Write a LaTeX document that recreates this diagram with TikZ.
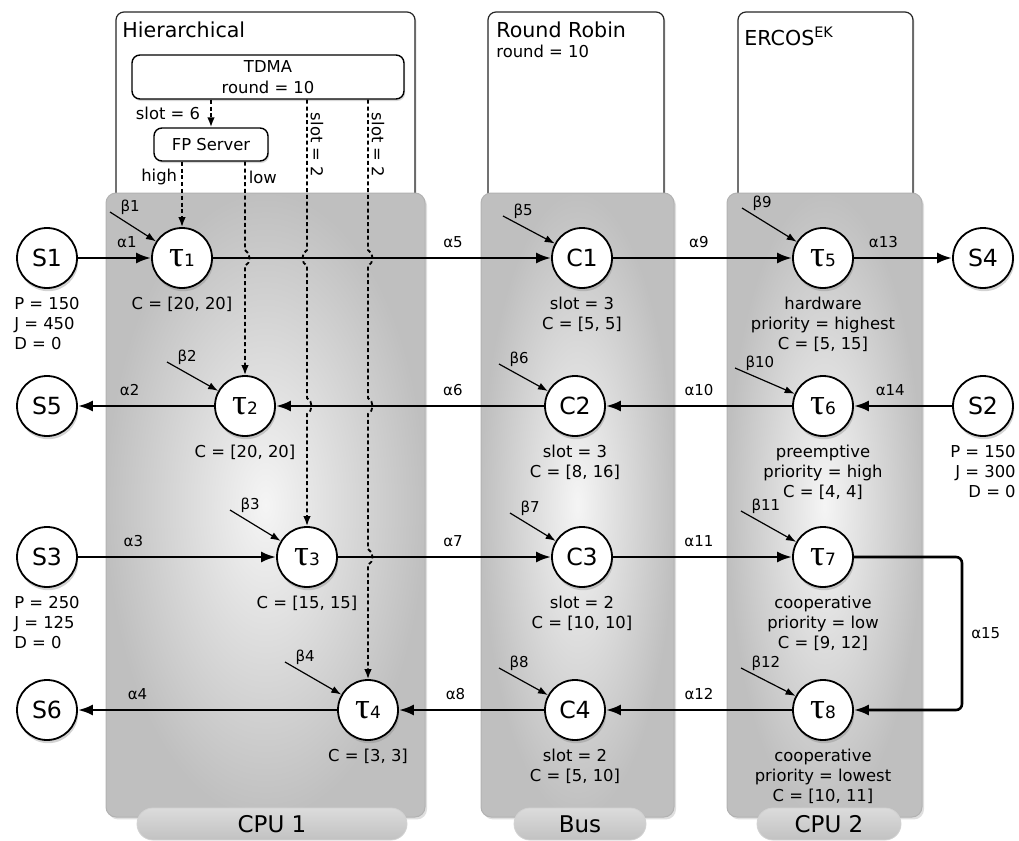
\documentclass[tikz,border=0pt]{standalone}
\usepackage{fontspec}
\setmainfont{DejaVu Sans}
\newfontfamily\taufont{Liberation Serif}
\usetikzlibrary{arrows.meta,calc,positioning,shadows}

% task name with a small index
\newcommand{\tsk}[1]{{\taufont\fontsize{18.5}{18}\selectfont τ}{\fontsize{8.5}{9}\selectfont #1}}
% small hop of a dashed line over a horizontal flow
\newcommand{\hop}[3]{-- ($(#1 |- #2)+(0,-8)$) .. controls ($(#1 |- #2)+(#3,-5)$) and ($(#1 |- #2)+(#3,5)$) .. ($(#1 |- #2)+(0,8)$)}

\tikzset{
  proc/.style={circle, draw, line width=0.9pt, fill=white, minimum size=30pt,
    inner sep=0pt, font=\fontsize{11.8}{12}\selectfont,
    drop shadow={opacity=0.35, shadow xshift=0.6pt, shadow yshift=-1.6pt}},
  info/.style={font=\fontsize{8.2}{10}\selectfont, align=center, inner sep=0pt},
  alab/.style={font=\fontsize{7.5}{8}\selectfont, inner sep=1pt},
  title/.style={font=\fontsize{10.3}{12}\selectfont, anchor=north west, inner sep=0pt},
  flow/.style={line width=1.3pt, -{Latex[length=7.5pt,width=5.5pt]}},
  svc/.style={line width=0.6pt, -{Latex[length=5pt,width=3.6pt]}},
  sched/.style={line width=0.9pt, dash pattern=on 2pt off 1.4pt, -{Latex[length=5pt,width=3.8pt]}},
  panel/.style={rounded corners=5pt, draw=gray!60, line width=0.5pt,
    inner color=gray!8, outer color=gray!50,
    drop shadow={opacity=0.25, shadow xshift=1pt, shadow yshift=-1.2pt}},
  schedbox/.style={rounded corners=4pt, draw=black!85, line width=0.6pt, fill=white,
    drop shadow={opacity=0.2, shadow xshift=0.8pt, shadow yshift=-0.8pt}},
  inbox/.style={rectangle, rounded corners=4pt, draw, line width=0.7pt, fill=white,
    font=\fontsize{8.2}{10.5}\selectfont, align=center, inner sep=0pt,
    drop shadow={opacity=0.3, shadow xshift=0.6pt, shadow yshift=-1pt}},
  tab/.style={rectangle, rounded corners=8pt, draw=gray!35, top color=gray!28,
    bottom color=gray!48, minimum height=16pt, inner sep=0pt,
    font=\fontsize{11.5}{12}\selectfont}
}

\begin{document}
\begin{tikzpicture}[x=0.5pt, y=-0.5pt]
\useasboundingbox (0,0) rectangle (1019,841);

% schedulers
\path[schedbox] (116,12) rectangle (415,240);
\path[schedbox] (488,12) rectangle (664,240);
\path[schedbox] (738,12) rectangle (913,240);
\node[title] (hier) at (122,21) {Hierarchical};
\node[title] (rrob) at (496,21) {Round Robin};
\node[info, anchor=north west] (rrnd) at (496,45) {round = 10};
\node[title] (ercos) at (744,27) {ERCOS\textsuperscript{EK}};
\node[inbox, minimum width=136pt, minimum height=22pt] (tdma) at (268,77) {TDMA\\round = 10};
\node[inbox, minimum width=57pt, minimum height=16.5pt] (fp) at (211,144.5) {FP Server};

% resources
\path[panel] (106,193) rectangle (425,817);
\path[panel] (481,193) rectangle (674,817);
\path[panel] (727,193) rectangle (922,817);
\node[tab, minimum width=135pt] (cpu1) at (272,824) {CPU 1};
\node[tab, minimum width=66pt] (bus) at (580,824) {Bus};
\node[tab, minimum width=72pt] (cpu2) at (829,824) {CPU 2};

% sources, tasks and messages
\node[proc] (s1) at (47,258) {S1};
\node[proc] (t1) at (182,258) {\tsk{1}};
\node[proc] (c1) at (582,258) {C1};
\node[proc] (t5) at (823,258) {\tsk{5}};
\node[proc] (s4) at (983,258) {S4};
\node[proc] (s5) at (47,406) {S5};
\node[proc] (t2) at (245,406) {\tsk{2}};
\node[proc] (c2) at (575,406) {C2};
\node[proc] (t6) at (823,406) {\tsk{6}};
\node[proc] (s2) at (983,406) {S2};
\node[proc] (s3) at (47,557) {S3};
\node[proc] (t3) at (307,557) {\tsk{3}};
\node[proc] (c3) at (582,557) {C3};
\node[proc] (t7) at (823,557) {\tsk{7}};
\node[proc] (s6) at (47,710) {S6};
\node[proc] (t4) at (368,710) {\tsk{4}};
\node[proc] (c4) at (575,710) {C4};
\node[proc] (t8) at (823,710) {\tsk{8}};

\node[info, align=left, below=4pt of s1] (s1i) {P = 150\\J = 450\\D = 0};
\node[info, align=left, below=4pt of s3] (s3i) {P = 250\\J = 125\\D = 0};
\node[info, align=right, below=4pt of s2] (s2i) {P = 150\\J = 300\\D = 0};
\node[info, below=4pt of t1] (t1i) {C = [20, 20]};
\node[info, below=4pt of t2] (t2i) {C = [20, 20]};
\node[info, below=4pt of t3] (t3i) {C = [15, 15]};
\node[info, below=4pt of t4] (t4i) {C = [3, 3]};
\node[info, below=4pt of c1] (c1i) {slot = 3\\C = [5, 5]};
\node[info, below=4pt of c2] (c2i) {slot = 3\\C = [8, 16]};
\node[info, below=4pt of c3] (c3i) {slot = 2\\C = [10, 10]};
\node[info, below=4pt of c4] (c4i) {slot = 2\\C = [5, 10]};
\node[info, below=4pt of t5] (t5i) {hardware\\priority = highest\\C = [5, 15]};
\node[info, below=4pt of t6] (t6i) {preemptive\\priority = high\\C = [4, 4]};
\node[info, below=4pt of t7] (t7i) {cooperative\\priority = low\\C = [9, 12]};
\node[info, below=4pt of t8] (t8i) {cooperative\\priority = lowest\\C = [10, 11]};

% service inputs
\foreach \n/\b/\dx/\dy in {t1/1/-72/-46, t2/2/-78/-44, t3/3/-77/-47, t4/4/-83/-48,
    c1/5/-79/-42, c2/6/-76/-42, c3/7/-72/-44, c4/8/-76/-42,
    t5/9/-81/-50, t6/10/-88/-38, t7/11/-82/-46, t8/12/-82/-42} {
  \coordinate (b\b) at ($(\n)+(\dx,\dy)$);
  \draw[svc] (b\b) node[alab, anchor=west, xshift=4pt, yshift=2.5pt] (bl\b) {β\b} -- (\n);
}

% event flows
\draw[flow] (s1) -- node[alab, above=3.5pt, pos=.67] (a1) {α1} (t1);
\draw[flow] (t2) -- node[alab, above=3.5pt, pos=.62] (a2) {α2} (s5);
\draw[flow] (s3) -- node[alab, above=3.5pt, pos=.28] (a3) {α3} (t3);
\draw[flow] (t4) -- node[alab, above=3.5pt, pos=.77] (a4) {α4} (s6);
\draw[flow] (t1) -- node[alab, above=3.5pt, pos=.71] (a5) {α5} (c1);
\draw[flow] (c2) -- node[alab, above=3.5pt, pos=.34] (a6) {α6} (t2);
\draw[flow] (t3) -- node[alab, above=3.5pt, pos=.54] (a7) {α7} (c3);
\draw[flow] (c4) -- node[alab, above=3.5pt, pos=.61] (a8) {α8} (t4);
\draw[flow] (c1) -- node[alab, above=3.5pt, pos=.48] (a9) {α9} (t5);
\draw[flow] (t6) -- node[alab, above=3.5pt, pos=.50] (a10) {α10} (c2);
\draw[flow] (c3) -- node[alab, above=3.5pt, pos=.48] (a11) {α11} (t7);
\draw[flow] (t8) -- node[alab, above=3.5pt, pos=.50] (a12) {α12} (c4);
\draw[flow] (t5) -- node[alab, above=3.5pt, pos=.30] (a13) {α13} (s4);
\draw[flow] (s2) -- node[alab, above=3.5pt, pos=.63] (a14) {α14} (t6);
\coordinate (loop) at (962,633);
\draw[flow, rounded corners=3pt] (t7) -- (t7 -| loop) -- node[alab, right=3pt] (a15) {α15} (t8 -| loop) -- (t8);

% scheduling links
\draw[sched] (tdma.south -| fp) -- node[info, left=5pt] (sl6) {slot = 6} (fp);
\draw[sched] (fp.south -| t1) node[info, anchor=east, xshift=-2pt, yshift=-7.5pt] (hi) {high} -- (t1);
\draw[sched] (fp.south -| t2) node[info, anchor=west, xshift=1.5pt, yshift=-8pt] (lo) {low}
  \hop{t2}{t1}{6} -- (t2);
\draw[sched] (tdma.south -| t3) \hop{t3}{t1}{-6} \hop{t3}{t2}{6} -- (t3);
\draw[sched] (tdma.south -| t4) \hop{t4}{t1}{6} \hop{t4}{t2}{6} \hop{t4}{t3}{6} -- (t4);
\node[info, rotate=-90] (sl2a) at (317,145) {slot = 2};
\node[info, rotate=-90] (sl2b) at (378,145) {slot = 2};
\end{tikzpicture}
\end{document}
